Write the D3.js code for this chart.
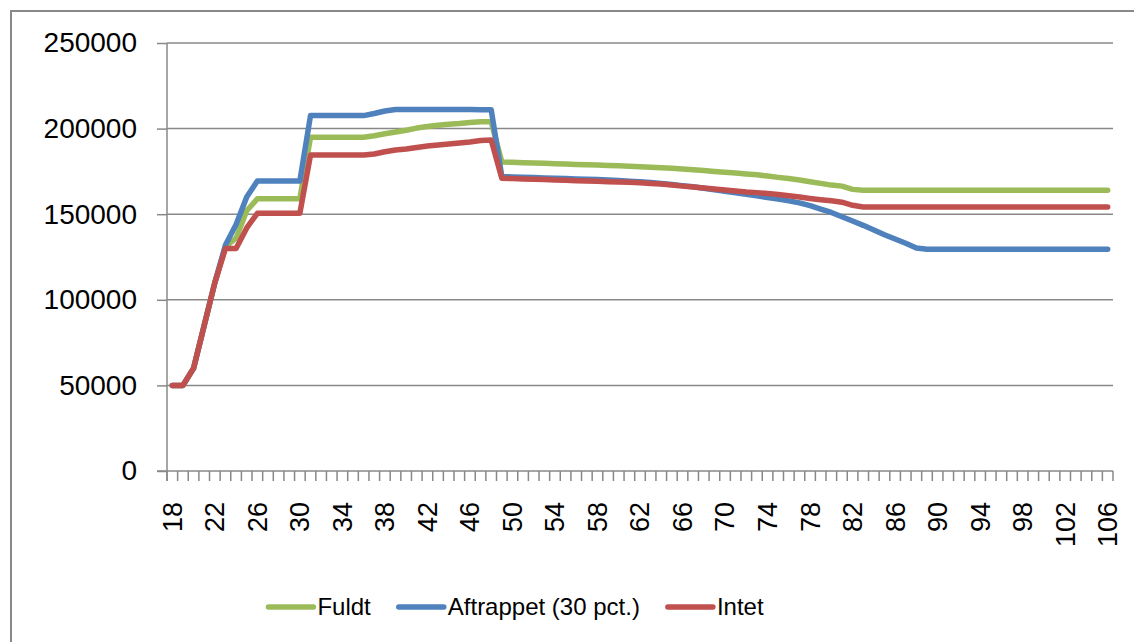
<!DOCTYPE html>
<html>
<head>
<meta charset="utf-8">
<script src="https://cdn.jsdelivr.net/npm/d3@7"></script>
<style>
  html, body { margin: 0; padding: 0; background: #fff; }
  svg { display: block; font-family: "Liberation Sans", Arial, sans-serif; }
</style>
</head>
<body>
<svg id="chart" width="1134" height="642"></svg>
<script>
// Ages 18..106 on the category axis
const ages = d3.range(18, 107);

// Pension income by age (kr.), one value per age
const fuldt = [
  50000, 50000, 60000, 85000, 110000, 131000, 136000, 152000, 159000, 159000,
  159000, 159000, 159000, 195000, 195000, 195000, 195000, 195000, 195000, 195800,
  197000, 198000, 199000, 200300, 201200, 202000, 202600, 203000, 203600, 204000,
  204000, 180500, 180300, 180100, 179900, 179700, 179500, 179300, 179100, 178900,
  178700, 178500, 178300, 178000, 177700, 177400, 177100, 176800, 176400, 176000,
  175500, 175000, 174500, 174000, 173500, 173000, 172300, 171500, 170800, 170000,
  169000, 168000, 167000, 166400, 164500, 164000, 164000, 164000, 164000, 164000,
  164000, 164000, 164000, 164000, 164000, 164000, 164000, 164000, 164000, 164000,
  164000, 164000, 164000, 164000, 164000, 164000, 164000, 164000, 164000
];
const aftrappet = [
  50000, 50000, 60000, 85000, 110000, 132000, 144000, 160000, 169400, 169400,
  169400, 169400, 169400, 207600, 207600, 207600, 207600, 207600, 207600, 208800,
  210300, 211200, 211200, 211200, 211200, 211200, 211200, 211200, 211200, 211000,
  211000, 172000, 171800, 171600, 171400, 171200, 171000, 170800, 170600, 170400,
  170200, 170000, 169700, 169300, 168900, 168500, 168000, 167400, 166700, 166000,
  165200, 164300, 163400, 162500, 161600, 160700, 159800, 158800, 157800, 156600,
  155000, 153000, 151000, 148500, 146000, 143500, 140800, 138000, 135500, 133000,
  130300, 129500, 129500, 129500, 129500, 129500, 129500, 129500, 129500, 129500,
  129500, 129500, 129500, 129500, 129500, 129500, 129500, 129500, 129500
];
const intet = [
  50000, 50000, 60000, 85000, 110000, 130000, 130000, 142000, 150500, 150500,
  150500, 150500, 150500, 184600, 184600, 184600, 184600, 184600, 184600, 185200,
  186500, 187500, 188100, 189000, 189800, 190400, 191000, 191600, 192200, 193000,
  193300, 171000, 170800, 170600, 170400, 170200, 170000, 169800, 169600, 169400,
  169200, 169000, 168800, 168600, 168400, 168000, 167600, 167000, 166400, 165900,
  165300, 164700, 164100, 163600, 163000, 162600, 162100, 161500, 160800, 160000,
  159200, 158500, 157800, 157000, 155200, 154200, 154200, 154200, 154200, 154200,
  154200, 154200, 154200, 154200, 154200, 154200, 154200, 154200, 154200, 154200,
  154200, 154200, 154200, 154200, 154200, 154200, 154200, 154200, 154200
];

const yTicks = [0, 50000, 100000, 150000, 200000, 250000];
const xTickLabels = ages.filter(a => (a - 18) % 4 === 0);

const seriesNames = ["Fuldt", "Aftrappet (30 pct.)", "Intet"];
const seriesColors = ["#9BBB59", "#4F81BD", "#C0504D"];
const seriesValues = [fuldt, aftrappet, intet];

const svg = d3.select("#chart");
const axisColor = "#888888";

const plot = { left: 167, right: 1113, top: 43, bottom: 471 };

const x = d3.scaleBand().domain(ages).range([plot.left, plot.right]).paddingInner(0).paddingOuter(0);
const y = d3.scaleLinear().domain([0, 250000]).range([plot.bottom, plot.top]);
const cx = a => x(a) + x.bandwidth() / 2;

// Outer chart frame
svg.append("rect")
  .attr("x", 11).attr("y", 11)
  .attr("width", 1150).attr("height", 660)
  .attr("fill", "none").attr("stroke", axisColor).attr("stroke-width", 2);

// Horizontal gridlines
svg.append("g")
  .selectAll("line")
  .data(yTicks.filter(v => v > 0))
  .join("line")
  .attr("x1", plot.left).attr("x2", plot.right)
  .attr("y1", d => y(d)).attr("y2", d => y(d))
  .attr("stroke", axisColor).attr("stroke-width", 1.5);

// Y axis
const yAxis = svg.append("g")
  .attr("transform", `translate(${plot.left},0)`)
  .call(d3.axisLeft(y).tickValues(yTicks).tickSize(10).tickPadding(20).tickFormat(d3.format("d")));
yAxis.select(".domain").attr("stroke", axisColor).attr("stroke-width", 1.5)
  .attr("d", `M0,${plot.top}V${plot.bottom + 10}`);
yAxis.selectAll(".tick line").attr("stroke", axisColor).attr("stroke-width", 1.5);
yAxis.selectAll(".tick text")
  .attr("font-size", 28).attr("fill", "#000")
  .attr("font-family", "Liberation Sans, Arial, sans-serif");

// X axis: baseline, tick marks between categories, rotated labels every fourth age
const xAxis = svg.append("g");
xAxis.append("line")
  .attr("x1", plot.left - 10).attr("x2", plot.right)
  .attr("y1", plot.bottom).attr("y2", plot.bottom)
  .attr("stroke", axisColor).attr("stroke-width", 1.5);
const boundaries = ages.map(a => x(a)).concat([plot.right]);
xAxis.selectAll("line.tk")
  .data(boundaries)
  .join("line")
  .attr("class", "tk")
  .attr("x1", d => d).attr("x2", d => d)
  .attr("y1", plot.bottom).attr("y2", plot.bottom + 10)
  .attr("stroke", axisColor).attr("stroke-width", 1.5);
xAxis.selectAll("text")
  .data(xTickLabels)
  .join("text")
  .attr("transform", d => `translate(${cx(d)},${plot.bottom + 31}) rotate(-90)`)
  .attr("text-anchor", "end")
  .attr("dy", "0.35em")
  .attr("font-size", 27)
  .attr("fill", "#000")
  .text(d => d);

// Series lines
const line = d3.line().x((d, i) => cx(ages[i])).y(d => y(d));
svg.append("g")
  .selectAll("path")
  .data(seriesValues)
  .join("path")
  .attr("d", d => line(d))
  .attr("fill", "none")
  .attr("stroke", (d, i) => seriesColors[i])
  .attr("stroke-width", 5.5)
  .attr("stroke-linejoin", "round")
  .attr("stroke-linecap", "round");

// Legend
const legend = svg.append("g");
const legendY = 607;
const swatch = 45, swGap = 4, itemGap = 28;
let lx = 0;
seriesNames.forEach((name, i) => {
  const g = legend.append("g").attr("transform", `translate(${lx},0)`);
  g.append("line")
    .attr("x1", 0).attr("x2", swatch)
    .attr("y1", legendY).attr("y2", legendY)
    .attr("stroke", seriesColors[i]).attr("stroke-width", 5.5)
    .attr("stroke-linecap", "round");
  const t = g.append("text")
    .attr("x", swatch + swGap).attr("y", legendY)
    .attr("dy", "0.35em")
    .attr("font-size", 24)
    .attr("fill", "#000")
    .text(name);
  lx += swatch + swGap + t.node().getComputedTextLength() + itemGap;
});
const legendWidth = lx - itemGap;
legend.attr("transform", `translate(${516 - legendWidth / 2},0)`);
</script>
</body>
</html>
